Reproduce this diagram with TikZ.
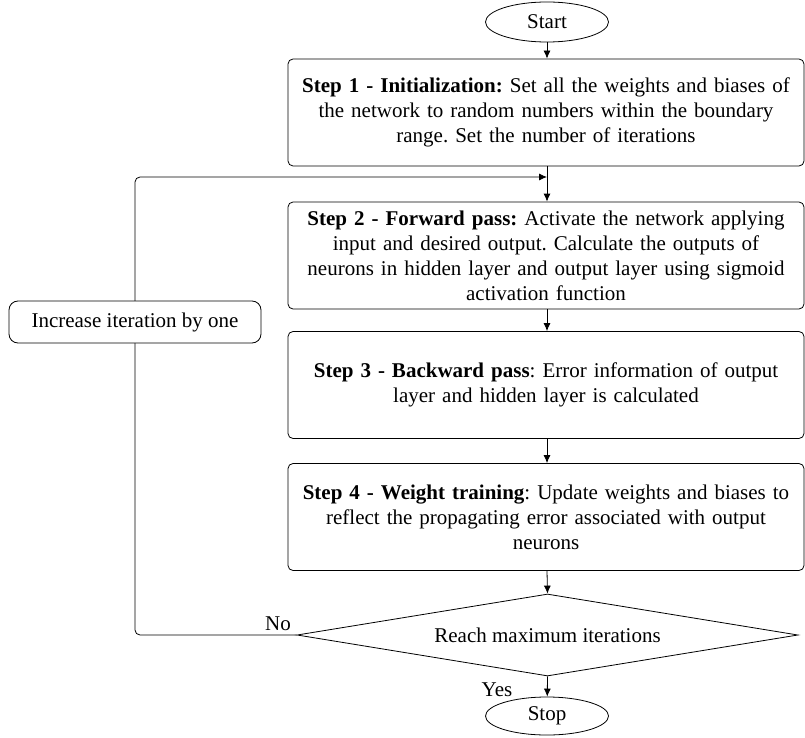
\documentclass[tikz,border=0pt]{standalone}
\usepackage{fontspec}
\setmainfont{Liberation Serif}
\usetikzlibrary{shapes.geometric,arrows.meta}
\begin{document}
\frenchspacing
\begin{tikzpicture}[x=1pt,y=-1pt,
  font=\fontsize{21}{25}\selectfont,
  line width=0.8pt,
  >={Latex[length=8pt,width=7pt]},
  stepbox/.style={draw, rounded corners=5pt, align=center, text width=512pt,
    minimum width=516pt, minimum height=107pt, inner sep=0pt},
  term/.style={draw, ellipse, minimum width=123pt, minimum height=40pt, inner sep=0pt},
  cond/.style={draw, diamond, aspect=6, minimum width=501pt, minimum height=82pt, inner sep=0pt},
  sidebox/.style={draw, rounded corners=9pt, minimum width=252pt, minimum height=42pt, inner sep=0pt, fill=white},
  flow/.style={->}
]
\useasboundingbox (0,0) rectangle (805,738);

\node[term] (start) at (547,22) {Start};
\node[stepbox] (s1) at (546,112.5) {\textbf{Step 1 - Initialization:} Set all the weights and biases of\\
  the network to random numbers within the boundary\\
  range. Set the number of iterations};
\node[stepbox] (s2) at (546,255.5) {\textbf{Step 2 - Forward pass:} Activate the network applying\\
  input and desired output. Calculate the outputs of\\
  neurons in hidden layer and output layer using sigmoid\\
  activation function};
\node[stepbox] (s3) at (546,385) {\textbf{Step 3 - Backward pass}: Error information of output\\
  layer and hidden layer is calculated};
\node[stepbox] (s4) at (546,517) {\textbf{Step 4 - Weight training}: Update weights and biases to\\
  reflect the propagating error associated with output\\
  neurons};
\node[cond] (dec) at (547.5,635) {Reach maximum iterations};
\node[term, minimum height=38pt] (stop) at (547,716) {Stop};

\coordinate (join) at (547,177);

\draw[flow] (start) -- (start |- s1.north);
\draw (s1.south -| join) -- (join);
\draw[flow] (join) -- (join |- s2.north);
\draw[flow] (s2.south -| join) -- (join |- s3.north);
\draw[flow] (s3.south -| join) -- (join |- s4.north);
\draw[flow] (s4.south -| join) -- (dec.north);
\draw[flow] (dec.south) -- (stop);

% loop back for the next iteration
\draw[rounded corners=5pt] (dec.west) -- (135,635) -- (135,322);
\draw[flow, rounded corners=5pt] (135,322) -- (135,177) -- (join);
\node[sidebox] (inc) at (135,322) {Increase iteration by one};

\node (no) at (278,624) {No};
\node (yes) at (497,690) {Yes};
\end{tikzpicture}
\end{document}
